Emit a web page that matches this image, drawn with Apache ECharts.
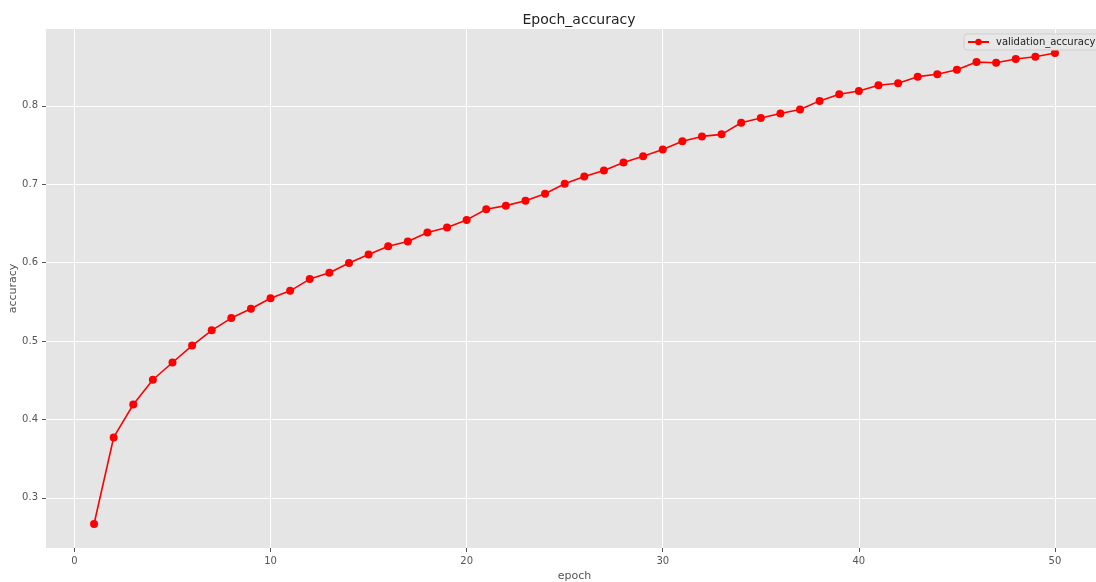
<!DOCTYPE html>
<html>
<head>
<meta charset="utf-8">
<script src="https://cdn.jsdelivr.net/npm/echarts@6/dist/echarts.min.js"></script>
<style>
    html, body { margin: 0; padding: 0; background: #fff; }
    #chart { width: 1096px; height: 582px; }
</style>
</head>
<body>
<div id="chart"></div>
<script>
const epochs = []
for (let i = 1; i <= 50; i++) {
    epochs.push(i)
}
const accuracy = [
    0.2666, 0.377, 0.419, 0.4506, 0.4726, 0.4942, 0.5136, 0.5293, 0.5411, 0.5545,
    0.564, 0.579, 0.587, 0.5995, 0.6105, 0.621, 0.627, 0.6385, 0.6448, 0.6545,
    0.668, 0.6727, 0.679, 0.6879, 0.7006, 0.7099, 0.7175, 0.7277, 0.7357, 0.7443,
    0.7547, 0.761, 0.7636, 0.7784, 0.7844, 0.7903, 0.7953, 0.8063, 0.8148, 0.819,
    0.8262, 0.8288, 0.8372, 0.8402, 0.8461, 0.8558, 0.855, 0.8597, 0.8626, 0.8673
]
const xTicks = [0, 10, 20, 30, 40, 50]
const yTicks = [0.3, 0.4, 0.5, 0.6, 0.7, 0.8]

const font = 'DejaVu Sans'
const chart = echarts.init(document.getElementById('chart'))
chart.setOption({
    animation: false,
    backgroundColor: '#ffffff',
    title: {
        text: 'Epoch_accuracy',
        left: 574,
        textAlign: 'center',
        top: 8,
        textStyle: { fontFamily: font, fontSize: 14, fontWeight: 'normal', color: '#222' }
    },
    legend: {
        data: ['validation_accuracy'],
        left: 964,
        top: 34,
        padding: [3, 6, 3, 3],
        itemWidth: 21,
        itemHeight: 8,
        itemGap: 6,
        backgroundColor: '#e8e8e8',
        borderColor: '#cfcfcf',
        borderWidth: 1,
        borderRadius: 3,
        textStyle: { fontFamily: font, fontSize: 10, color: '#222', padding: [0, 0, 0, 2] }
    },
    grid: {
        left: 46,
        right: -7,
        top: 29,
        bottom: 34,
        outerBoundsMode: 'none',
        containLabel: false,
        show: true,
        backgroundColor: '#e5e5e5',
        borderWidth: 0
    },
    xAxis: {
        type: 'value',
        min: -1.45,
        max: 52.45,
        name: 'epoch',
        nameLocation: 'middle',
        nameGap: 23,
        nameMoveOverlap: false,
        nameTextStyle: { fontFamily: font, fontSize: 11, color: '#555' },
        axisLine: { show: false, onZero: false },
        axisTick: {
            show: true, length: 4, customValues: xTicks,
            lineStyle: { color: '#555' }
        },
        axisLabel: {
            customValues: xTicks,
            margin: 8,
            fontFamily: font, fontSize: 10, color: '#555'
        },
        splitLine: { show: true, lineStyle: { color: '#ffffff', width: 1 } }
    },
    yAxis: {
        type: 'value',
        min: 0.236,
        max: 0.898,
        name: 'accuracy',
        nameLocation: 'middle',
        nameGap: 27,
        nameMoveOverlap: false,
        nameTextStyle: { fontFamily: font, fontSize: 11, color: '#555' },
        axisLine: { show: false, onZero: false },
        axisTick: {
            show: true, length: 4, customValues: yTicks,
            lineStyle: { color: '#555' }
        },
        axisLabel: {
            customValues: yTicks,
            margin: 8,
            formatter: v => v.toFixed(1),
            fontFamily: font, fontSize: 10, color: '#555'
        },
        splitLine: { show: true, lineStyle: { color: '#ffffff', width: 1 } }
    },
    series: [{
        name: 'validation_accuracy',
        type: 'line',
        data: epochs.map((e, i) => [e, accuracy[i]]),
        symbol: 'circle',
        symbolSize: 8,
        itemStyle: { color: '#ff0000' },
        lineStyle: { color: '#ff0000', width: 1.6 }
    }]
})
</script>
</body>
</html>
